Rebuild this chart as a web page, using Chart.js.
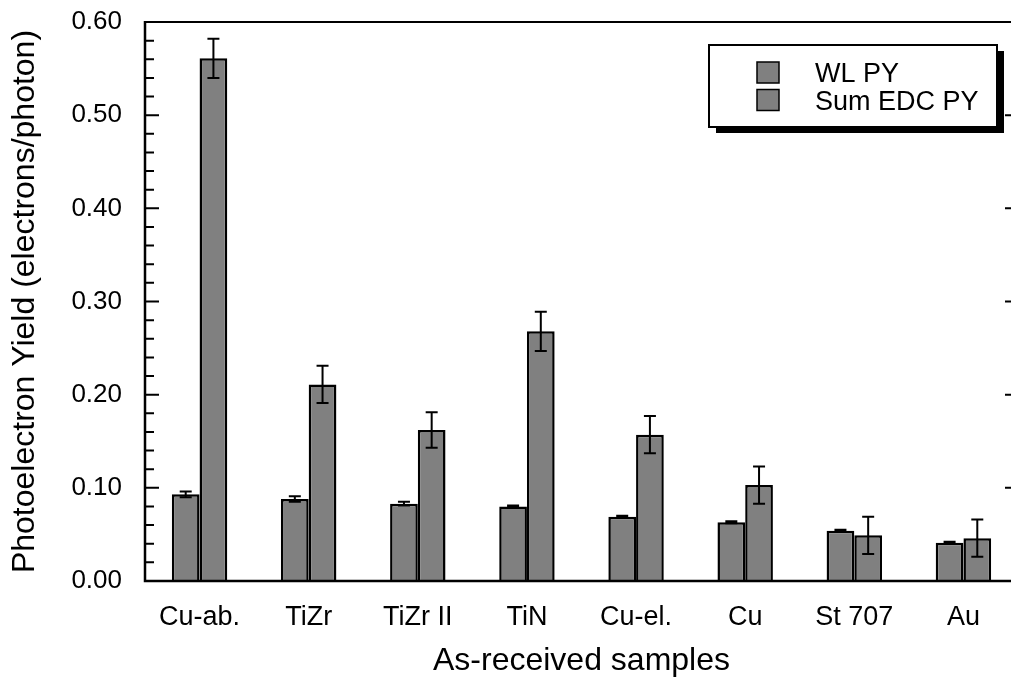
<!DOCTYPE html>
<html>
<head>
<meta charset="utf-8">
<script src="https://cdn.jsdelivr.net/npm/chart.js@4/dist/chart.umd.min.js"></script>
<style>
  html, body { margin: 0; padding: 0; background: #fff; overflow: hidden; }
  #wrap { width: 1020px; height: 679px; }
</style>
</head>
<body>
<div id="wrap"><canvas id="chart_py" width="1020" height="679"></canvas></div>
<script>
const samples = ['Cu-ab.', 'TiZr', 'TiZr II', 'TiN', 'Cu-el.', 'Cu', 'St 707', 'Au']
const wlPY = [0.093, 0.088, 0.083, 0.080, 0.069, 0.063, 0.054, 0.041]
const wlErr = [0.003, 0.003, 0.002, 0.001, 0.001, 0.001, 0.001, 0.001]
const sumPY = [0.561, 0.211, 0.162, 0.268, 0.157, 0.103, 0.049, 0.046]
const sumErr = [0.021, 0.020, 0.019, 0.021, 0.020, 0.020, 0.020, 0.020]
const yTicks = [0, 0.1, 0.2, 0.3, 0.4, 0.5, 0.6]
const errs = [wlErr, sumErr]

const FONT = "'Liberation Sans', Arial, Helvetica, sans-serif"

// error bars on top of the bars
const errorBars = {
  id: 'errorBars',
  afterDatasetsDraw: (chart) => {
    const ctx = chart.ctx
    const y = chart.scales.y
    ctx.save()
    ctx.strokeStyle = '#000'
    ctx.lineWidth = 2
    chart.data.datasets.forEach((ds, di) => {
      const meta = chart.getDatasetMeta(di)
      meta.data.forEach((bar, i) => {
        const v = ds.data[i]
        const e = errs[di][i]
        const top = y.getPixelForValue(v + e)
        const bot = y.getPixelForValue(v - e)
        ctx.beginPath()
        ctx.moveTo(bar.x, top); ctx.lineTo(bar.x, bot)
        ctx.moveTo(bar.x - 6, top); ctx.lineTo(bar.x + 6, top)
        ctx.moveTo(bar.x - 6, bot); ctx.lineTo(bar.x + 6, bot)
        ctx.stroke()
      })
    })
    ctx.restore()
  }
}

// frame with inward ticks, plus the boxed legend
const frame = {
  id: 'frame',
  afterDraw: (chart) => {
    const ctx = chart.ctx
    const a = chart.chartArea
    const y = chart.scales.y
    ctx.save()
    ctx.strokeStyle = '#000'
    ctx.lineWidth = 2
    ctx.beginPath()
    ctx.moveTo(a.left, a.top); ctx.lineTo(a.right, a.top)
    ctx.stroke()
    ctx.lineWidth = 2.5
    ctx.beginPath()
    ctx.moveTo(a.left, a.top - 1); ctx.lineTo(a.left, a.bottom)
    ctx.lineTo(a.right, a.bottom)
    ctx.stroke()
    ctx.lineWidth = 2
    ctx.beginPath()
    for (let k = 0; k <= 30; k++) {
      const py = y.getPixelForValue(k * 0.02)
      const major = k % 5 === 0
      ctx.moveTo(a.left, py); ctx.lineTo(a.left + (major ? 14 : 9), py)
      if (major) { ctx.moveTo(a.right, py); ctx.lineTo(a.right - 13, py) }
    }
    ctx.stroke()

    // legend box with drop shadow
    const lx = 709, ly = 45, lw = 288, lh = 82
    ctx.fillStyle = '#000'
    ctx.fillRect(lx + 7, ly + 6, lw, lh)
    ctx.fillStyle = '#fff'
    ctx.fillRect(lx, ly, lw, lh)
    ctx.lineWidth = 2
    ctx.strokeRect(lx, ly, lw, lh)
    ctx.font = '27px ' + FONT
    ctx.textBaseline = 'alphabetic'
    chart.data.datasets.forEach((ds, di) => {
      const sy = 62 + di * 27.5
      ctx.fillStyle = ds.backgroundColor
      ctx.fillRect(757, sy, 22, 21)
      ctx.lineWidth = 1.5
      ctx.strokeRect(757, sy, 22, 21)
      ctx.fillStyle = '#000'
      ctx.fillText(ds.label, 815, 82 + di * 28)
    })
    ctx.restore()
  }
}

new Chart(document.getElementById('chart_py'), {
  type: 'bar',
  data: {
    labels: samples,
    datasets: [
      { label: 'WL PY', data: wlPY, backgroundColor: '#808080', borderColor: '#000', borderWidth: 2.5 },
      { label: 'Sum EDC PY', data: sumPY, backgroundColor: '#808080', borderColor: '#000', borderWidth: 2.5 }
    ]
  },
  options: {
    responsive: false,
    animation: false,
    devicePixelRatio: 1,
    categoryPercentage: 0.508,
    barPercentage: 1.0,
    layout: { padding: { left: 0, top: 22, right: 2, bottom: 0 } },
    plugins: { legend: { display: false }, tooltip: { enabled: false } },
    scales: {
      x: {
        grid: { display: false },
        border: { display: false },
        ticks: { color: '#000', font: { family: FONT, size: 27 }, padding: 12, maxRotation: 0 },
        title: { display: true, text: 'As-received samples', color: '#000', font: { family: FONT, size: 32, lineHeight: 1 }, padding: { top: 0, bottom: 2 } },
        afterFit: (s) => { s.height = 98 }
      },
      y: {
        min: 0,
        max: 0.6,
        grid: { display: false, drawTicks: true, tickLength: 23 },
        border: { display: false },
        afterBuildTicks: (s) => { s.ticks = yTicks.map(v => ({ value: v })) },
        ticks: { color: '#000', font: { family: FONT, size: 26 }, padding: 0, callback: (v) => Number(v).toFixed(2) },
        title: { display: true, text: 'Photoelectron Yield (electrons/photon)', color: '#000', font: { family: FONT, size: 32, lineHeight: 1 }, padding: { top: 9, bottom: 0 } },
        afterFit: (s) => { s.width = 145 }
      }
    }
  },
  plugins: [errorBars, frame]
})
</script>
</body>
</html>
